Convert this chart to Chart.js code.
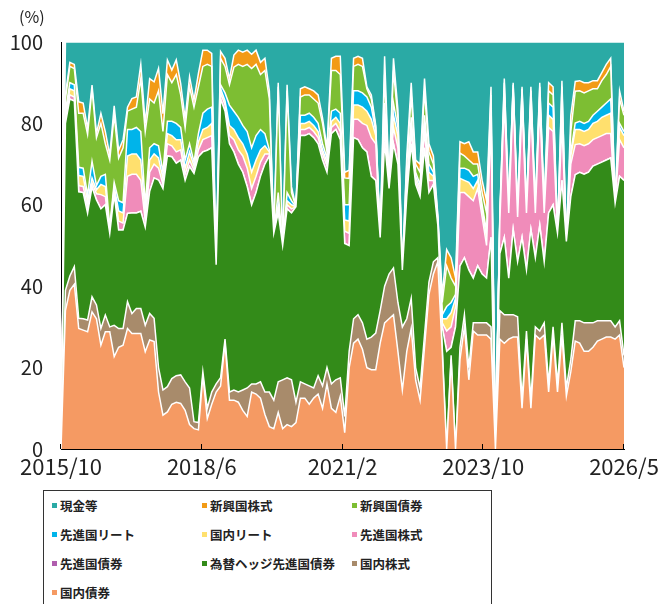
<!DOCTYPE html>
<html><head><meta charset="utf-8">
<script src="https://cdn.jsdelivr.net/npm/chart.js@4.4.1/dist/chart.umd.min.js"></script>
<style>
html,body{margin:0;padding:0;background:#fff;width:659px;height:604px;overflow:hidden;font-family:"Noto Sans CJK JP","Noto Sans",sans-serif;}
#wrap{position:absolute;left:0;top:0;width:659px;height:480px;}
#unit{position:absolute;left:19px;top:6px;font-size:16px;color:#222;line-height:20px;}
#legend{position:absolute;left:43px;top:490px;width:449px;height:140px;border:1px solid #333;box-sizing:border-box;display:grid;grid-template-columns:150px 150px 147px;grid-auto-rows:29px;}
.item{display:flex;align-items:center;font-size:12.5px;font-weight:bold;color:#222;padding-left:8px;white-space:nowrap;}
.sw{width:5px;height:5px;margin-right:3px;flex:none;}
</style></head>
<body>
<div id="wrap"><canvas id="c" width="659" height="480"></canvas></div>
<div id="unit">(%)</div>
<div id="legend"></div>
<script>
const tickPos = [0, 31.75, 63.5, 95.25, 127];
const tickLabels = ['2015/10','2018/6','2021/2','2023/10','2026/5'];

// 国内債券
const kokunaiSaiken = [0,34,39,40.5,29.6,29.2,28.8,33.7,32,25.5,
28.8,28.8,22.7,25,25.5,29.6,28.4,28.4,28.4,23.9,
26.8,26.4,14,8.3,9.1,11,11.5,11.2,9.5,6,
5,4.7,18,7.5,11,14,15.5,26,12,12,
11.5,9.5,8,14,13.5,12.5,8.5,5.5,5,9,
5,6,5.5,6.5,12.5,12.5,11,12.5,13.5,10,
16,10,9,13,4,20,26,27,24.5,20,
19.5,19.5,26,31,32,33,24,14.5,24,29.6,
16.9,12,25,38,43,46,24,0,22,0,
22,30,17,29,28,28,28,27,0,27,
26,27,27.5,27.5,10,27,10,28,27,28,
14,28,14,28,13,19,26.5,26,24,24,
25,26.5,27,27.5,27.5,27,28,20];
// 国内株式
const kokunaiKabushiki = [0,5,3.5,4.3,2.5,2.8,2.9,3.7,3.4,4.1,
4.1,1.2,7.7,4.6,4.1,6.6,4.9,6.1,6.1,6.5,
6.5,5.7,6,6.2,6.2,6.3,6.5,7,7,9,
1.7,1.8,1,2.5,3,2,2,1,2,2.5,
2.5,5,7,2,2.5,4,5.5,8.5,7,7.5,
12,11.5,11.5,5,4,3.5,4.5,2.5,4.5,5.5,
4,6,8,4.5,4,4,6,6,6.5,7,
8,9,8,9,11,11.5,12,15.5,8,7.4,
3.1,3,3,3,3,1,1,0,1,0,
3,3,3,2,3,3,3,3,0,7,
7,6,5.5,5,2,2,2,2,2,3,
2,2,2,3,2,3,5,5.5,7,7,
6,5,4.5,4,4,3,3.5,3];
// 為替ヘッジ先進国債券
const hedgeSenshinSaiken = [0,41,43.5,40.7,31.1,31,26.2,27,25.8,29.4,
27.1,23,32.1,24.2,24.2,21.7,24.7,23.5,23.9,24.1,
30,34.5,46.1,49.5,56.7,54.5,52.2,52.8,49.5,54.4,
61,65.3,54,63.4,60,29.3,68.5,56,61,58.5,
56,53.5,49.5,44,47,50.5,56,58,41,41.5,
33,41.5,41,48,60.5,61,62,61.5,57,55.5,
48,61.5,61.5,58.5,42.5,26,44.5,43,43,46,
39.5,37.5,18,35.5,21,30.5,34,14,30,38,
45,47,46,22,19,8,5,24,2,30,
20,14,24,11,14,12,11,22,0,14,
19,9,21,13.5,40,15,42,17,26,15,
42,30,37,35,36,40,35.9,36.5,36.5,37,
38.5,38.5,39,39.5,40,30.4,35.5,43];
// 先進国債券
const senshinSaiken = new Array(128).fill(0);
// 先進国株式
const senshinKabushiki = [0,1,1,1,1.5,1.5,1.5,1,1.5,3.5,
2,0.5,1,2.2,1.7,9.1,9.5,9.5,7.6,1.5,
4.7,3.4,2.9,1,3,2.7,2.8,2.5,1.5,1.6,
0.8,1.7,3,3.1,3,0,1.5,1.5,2,3,
3.5,4,4.5,4,4,3.5,2.5,0.5,0,1,
0,1,1,0,1.5,1.5,1.5,1.5,1.5,1.5,
1.5,1.5,1.5,2,3,3,4.5,5,6,6.5,
9.5,9,0,3.5,0.5,4,4,0,2,3,
1,1,4,3,1,0.5,1,5,5,5,
18,16,18,19,19,14,8,28,0,8,
33,16,32,11,32,14,29,11,29,12,
21,18,0,14,0,8,7.4,7,7,7,
6.5,6.5,6.5,6.5,6,0,9,8];
// 国内リート
const kokunaiReit = [0,1,1.5,1.5,2.5,2.5,1.5,1.2,1,2.5,
2.5,0.5,1,2.5,2.5,5,5,5,5,2,
3,2.5,2.5,1.5,2.5,2.5,3,2.5,1.5,2,
1,2,2.5,2.5,3,0,1,1,2.5,2.5,
3,3,3.5,4,4,3,2,0.5,0,1,
0,1,1,0,1.5,1.5,1.5,1.5,1.5,1,
1,1.5,1.5,2,2.8,3,3.5,3.5,4,3.5,
4.5,2,0,3,0.5,3,3,0,1,2,
1,1,2,2,1,0.5,1,3,3.5,2,
3.5,3,3.5,3,2,2,2,2,0,0.5,
1.5,0.5,1.5,0.5,2,0.5,2,0.5,2,0.5,
3,3,0,1.5,0,2,3.7,3.5,3.5,3.5,
4,4,4.5,4.5,5,0,3,3];
// 先進国リート
const senshinReit = [0,1,1.5,1.5,2,2,1.5,4.1,1,2,
3,0.5,1,2.5,2.5,6.5,6,6.5,7,2,
3,2.5,3,1.5,3,3.5,4,3,2,2,
1,2,4,4.5,4,0,1,2,5,4.5,
5,4.5,5.5,6,6,5,3,0.5,0,3,
0,2,1,0,2,2,2,2,2,1.5,
1,2.5,2,2.5,3.7,4,3.5,3.5,3.5,3.5,
3,1,0,3,0,3,2,0,1,1.5,
1,1,2,2,1,0.5,1,3,2.5,1,
2.5,3,3,3,1.5,1,1.5,1,0,0.5,
1,0.5,1,0.5,1,0.5,1,0.5,1,0.5,
3,3,0,1.5,0,1,1.6,2,2,2,
2,2.5,2.5,3,3.5,0,1,1];
// 新興国債券
const shinkoSaiken = [0,3,4,4,13.3,13.5,14.9,17.7,11.8,13,
7.5,16.5,16.5,10.5,13.5,4.5,5,5,13,18,
12,10,13.5,10,11.5,9.5,12,8,8,14,
13.5,11.5,11.5,11,10,0,6.5,6.5,5,10.8,
13,14.5,16.5,19.5,17.5,13.5,15.5,12.5,0,26,
0,25,2,0,4.5,5,4.5,4.5,5,5,
1.5,10,9.5,9.5,6.6,6.5,6,6.5,6.5,2,
2,1,0,7,0.5,8,2.3,0,4,5.5,
2,3,6,3,2,0.5,3,10,6,2,
3.7,3,2.5,3,2.5,3,4.5,4,0,0.5,
2.5,0.5,1,0.5,1.5,0.5,2,0.5,2,0.5,
3,3,0,6,0,5,7.8,7.5,7.5,7.5,
6.5,5.5,6.5,7,8,0,6,4];
// 新興国株式
const shinkoKabushiki = [0,1,1,1,2.8,2.5,1.5,1,1,2.5,
3,1.2,2.3,1.9,2,1,2.6,2.5,3.5,2,
5,5.2,5.5,4.4,3.6,3.1,3.6,2.8,2.2,2.5,
1.7,3.3,4,3.5,3.2,0,1.7,2,1.5,3,
3.5,3.5,3.5,3.5,3.5,3,3,2,0,1,
0,1.5,1.4,0,2,2,1.5,2,2,1.3,
1,3,3.5,4.5,1.4,2,2,2,2,0.5,
1,0.5,0,4.5,0.5,3,2.1,0,2,3,
1,2,3,2,2,0.5,2,4,5,2,
2.8,3,4.5,3,3,3,3,2,0,0.5,
1,0.5,0.5,0.5,0.5,0.5,1,0.5,1,0.5,
2,2,0,1.5,0,4,2.4,2.5,2.5,2,
2,2,2,2.5,2,0,2,1];
// 現金等
const genkin = [0,13,5,5.5,14.7,15,21.2,10.6,22.5,17.5,
22,27.8,15.7,26.6,24,16,13.9,13.5,5.5,20,
9,9.8,6.5,17.6,4.4,6.9,4.4,10.2,18.8,8.5,
14.3,7.7,2,2,2.8,54.7,2.3,4,9,3.2,
2,2.5,2,3,2,5,4,12,47,10,
50,10.5,35.6,40.5,11.5,11,11.5,12,13,18.7,
26,4,3.5,3.5,32,31.5,4,3.5,4,11,
13,20.5,48,3.5,34,4,16.6,56,28,10,
29,30,9,25,28,42.5,62,51,53,58,
24.5,25,24.5,27,27,34,39,11,100,42,
9,40,10,41,11,40,11,40,10,40,
10,11,47,9.5,49,18,9.7,9.5,10,10,
9.5,9.5,7.5,5.5,4,39.6,12,17];

const seriesDefs = [
  {name:'国内債券', data:kokunaiSaiken, color:'#f59a63'},
  {name:'国内株式', data:kokunaiKabushiki, color:'#a88b6b'},
  {name:'為替ヘッジ先進国債券', data:hedgeSenshinSaiken, color:'#338b19'},
  {name:'先進国債券', data:senshinSaiken, color:'#b05eae'},
  {name:'先進国株式', data:senshinKabushiki, color:'#f08cba'},
  {name:'国内リート', data:kokunaiReit, color:'#ffe06e'},
  {name:'先進国リート', data:senshinReit, color:'#00b4ea'},
  {name:'新興国債券', data:shinkoSaiken, color:'#7dbe33'},
  {name:'新興国株式', data:shinkoKabushiki, color:'#f29b16'},
  {name:'現金等', data:genkin, color:'#2aaaa5'}
];
const legendOrder = ['現金等','新興国株式','新興国債券','先進国リート','国内リート','先進国株式','先進国債券','為替ヘッジ先進国債券','国内株式','国内債券'];

const idx = kokunaiSaiken.map((_, i) => i);

Chart.defaults.font.family = '"Noto Sans CJK JP","Noto Sans",sans-serif';
Chart.defaults.color = '#222';

const innerTicks = {
  id: 'innerTicks',
  afterDraw(chart) {
    const {ctx, scales: {x}, chartArea} = chart;
    ctx.save();
    ctx.strokeStyle = '#000';
    ctx.lineWidth = 1;
    tickPos.forEach(v => {
      const px = Math.round(x.getPixelForValue(v)) - 0.5;
      ctx.beginPath();
      ctx.moveTo(px, chartArea.bottom);
      ctx.lineTo(px, chartArea.bottom - 5);
      ctx.stroke();
    });
    ctx.restore();
  }
};

new Chart(document.getElementById('c'), {
  type: 'line',
  data: {
    labels: idx,
    datasets: seriesDefs.map((s, k) => ({
      label: s.name,
      data: s.data,
      backgroundColor: s.color,
      borderColor: '#ffffff',
      borderWidth: 1.5,
      pointRadius: 0,
      tension: 0,
      fill: k === 0 ? 'origin' : '-1'
    }))
  },
  options: {
    responsive: false,
    animation: false,
    devicePixelRatio: 1,
    layout: {padding: {left: 0, right: 35, top: 42, bottom: 0}},
    plugins: {legend: {display: false}, tooltip: {enabled: false}},
    scales: {
      x: {
        type: 'linear', min: 0, max: 127,
        afterBuildTicks(s) { s.ticks = tickPos.map(v => ({value: v})); },
        afterFit(s) { s.height = 31; s.paddingLeft = 0; s.paddingRight = 0; },
        grid: {display: false, drawTicks: false},
        border: {display: true, color: '#000', width: 1},
        ticks: {
          autoSkip: false, maxRotation: 0, padding: 4,
          font: {size: 22},
          callback: (v) => { const k = tickPos.indexOf(v); return k >= 0 ? tickLabels[k] : ''; }
        }
      },
      y: {
        stacked: true, min: 0, max: 100,
        afterFit(s) { s.width = 61; },
        grid: {display: false, drawTicks: false},
        border: {display: true, color: '#000', width: 1},
        ticks: {stepSize: 20, padding: 18, font: {size: 20}}
      }
    }
  },
  plugins: [innerTicks]
});

const lg = document.getElementById('legend');
legendOrder.forEach(n => {
  const s = seriesDefs.find(d => d.name === n);
  const it = document.createElement('div');
  it.className = 'item';
  const sw = document.createElement('span');
  sw.className = 'sw';
  sw.style.background = s.color;
  it.appendChild(sw);
  it.appendChild(document.createTextNode(n));
  lg.appendChild(it);
});
</script>
</body></html>
